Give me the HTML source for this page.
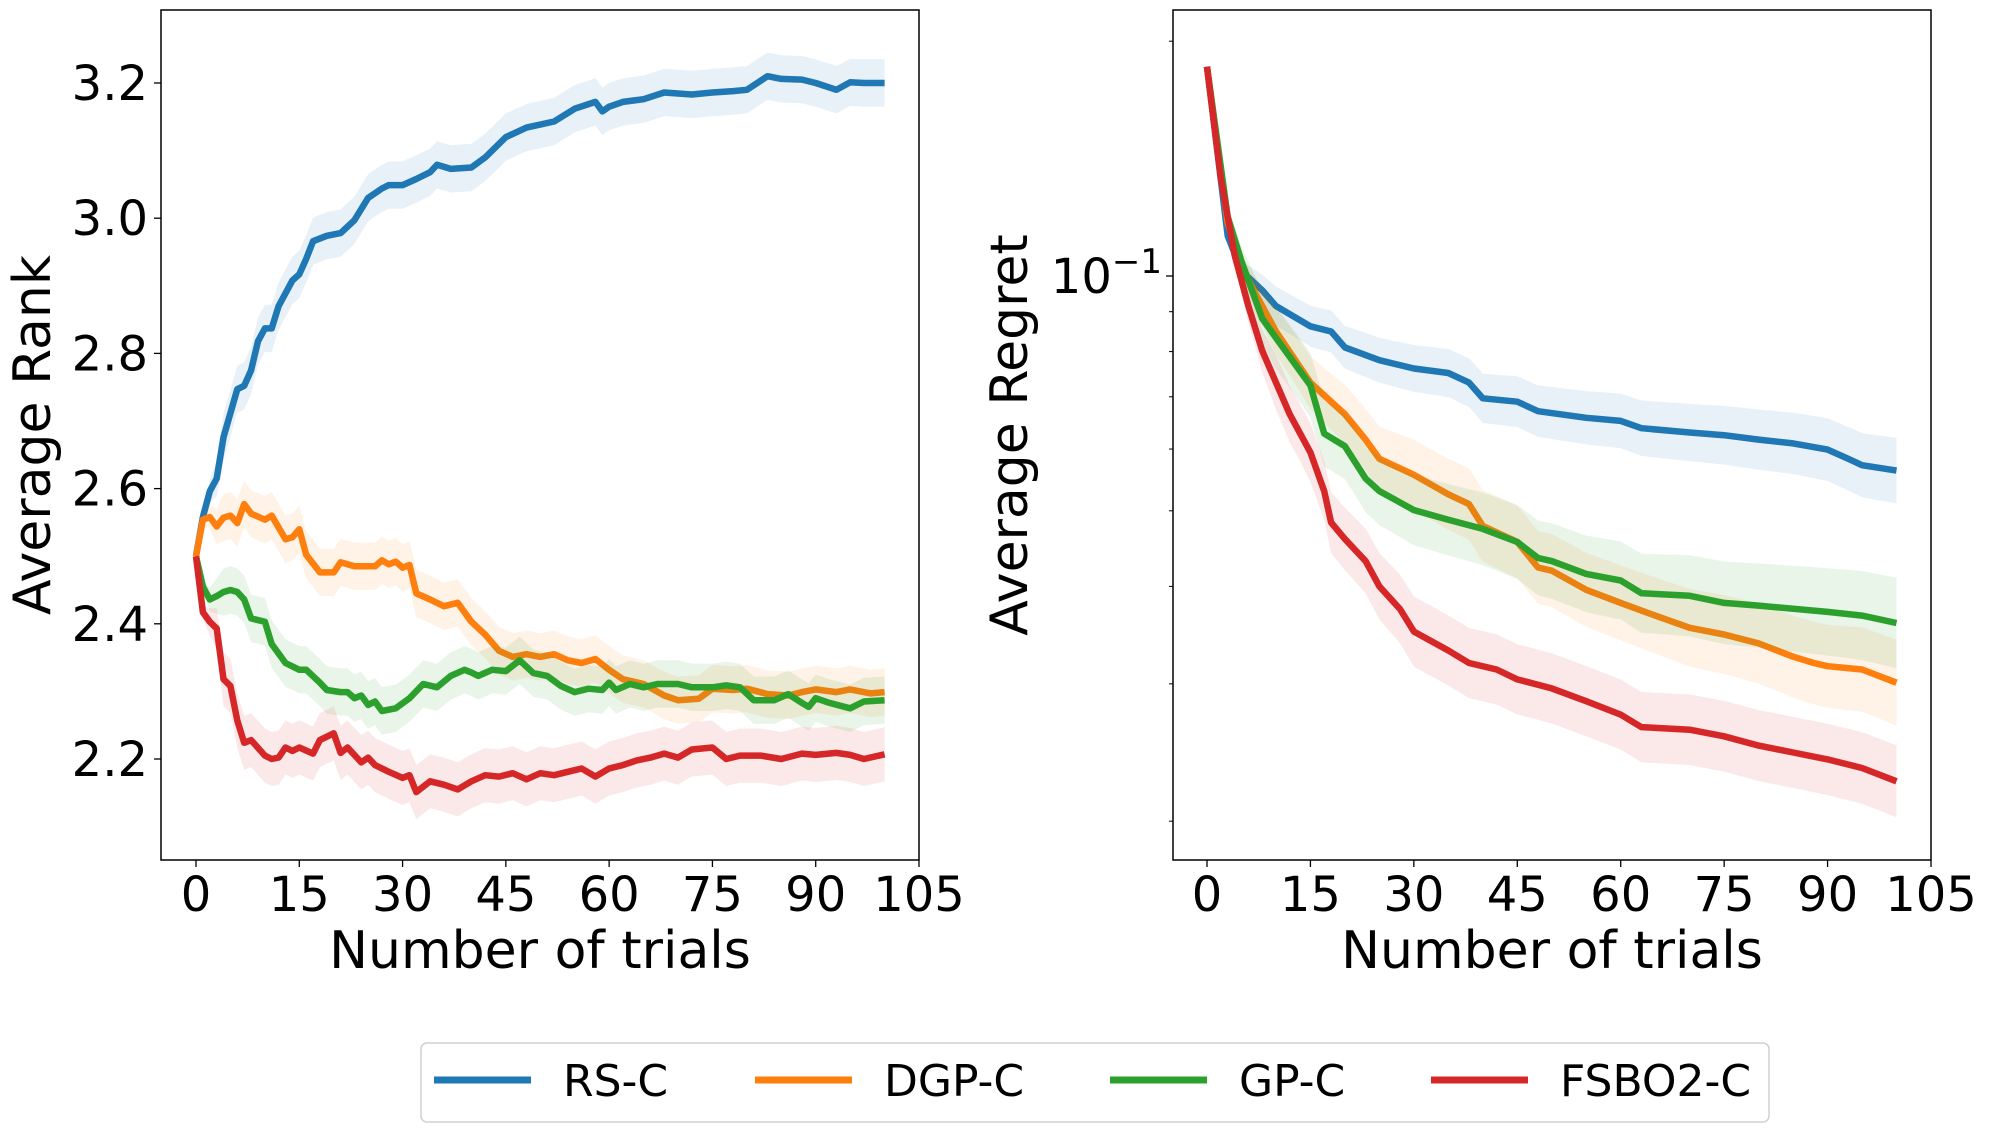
<!DOCTYPE html>
<html><head><meta charset="utf-8"><style>
html,body{margin:0;padding:0;background:#fff;}
svg{display:block;font-family:"DejaVu Sans","Liberation Sans",sans-serif;}
</style></head><body>
<svg id="fig" width="1989" height="1132" viewBox="0 0 1989 1132" xmlns="http://www.w3.org/2000/svg">
<g id="left"></g>
<g id="right"></g>
<g id="legend"></g>
</svg>
<script>
// ---- Left chart data (Average Rank) ----
const rsT=[0,1,2,3,4,6,7,8,9,10,11,12,14,15,16,17,19,21,23,25,27,28,30,32,34,35,37,40,42,45,48,52,55,58,59,60,62,65,68,72,75,78,80,83,85,88,90,93,95,97,100];
const rsRank=[2.5,2.558,2.596,2.615,2.676,2.747,2.752,2.775,2.818,2.837,2.837,2.87,2.908,2.917,2.94,2.966,2.974,2.978,2.997,3.03,3.044,3.049,3.049,3.058,3.068,3.079,3.073,3.075,3.09,3.12,3.134,3.143,3.162,3.172,3.158,3.165,3.172,3.176,3.186,3.183,3.186,3.188,3.19,3.21,3.206,3.205,3.2,3.19,3.201,3.2,3.2];
const dgpT=[0,1,2,3,4,5,6,7,8,10,11,13,14,15,16,18,20,21,23,26,27,28,29,30,31,32,34,36,38,40,42,44,46,48,50,52,54,56,58,60,62,65,68,70,73,75,78,80,83,86,88,90,93,95,98,100];
const dgpRank=[2.5,2.554,2.558,2.544,2.557,2.56,2.549,2.577,2.563,2.554,2.56,2.525,2.528,2.54,2.502,2.476,2.476,2.491,2.485,2.485,2.494,2.488,2.492,2.483,2.487,2.445,2.436,2.426,2.431,2.403,2.384,2.36,2.351,2.355,2.351,2.355,2.346,2.342,2.348,2.332,2.318,2.311,2.294,2.287,2.289,2.304,2.302,2.304,2.296,2.294,2.299,2.303,2.299,2.303,2.297,2.299];
const gpT=[0,1,2,3,4,5,6,7,8,10,11,13,15,16,18,19,21,22,23,24,25,26,27,29,31,33,35,37,39,40,41,43,45,47,49,51,53,55,57,59,60,61,63,65,67,70,72,75,77,79,81,84,86,88,89,90,92,95,97,100];
const gpRank=[2.5,2.455,2.436,2.441,2.447,2.45,2.447,2.436,2.408,2.403,2.37,2.342,2.332,2.332,2.313,2.302,2.299,2.299,2.29,2.294,2.28,2.285,2.271,2.275,2.29,2.311,2.306,2.323,2.332,2.328,2.323,2.332,2.33,2.346,2.327,2.323,2.308,2.299,2.304,2.302,2.313,2.302,2.311,2.306,2.311,2.311,2.306,2.306,2.309,2.306,2.287,2.287,2.296,2.283,2.277,2.29,2.283,2.275,2.285,2.287];
const fsboT=[0,1,2,3,4,5,6,7,8,10,11,12,13,14,15,17,18,20,21,22,24,25,26,28,30,31,32,34,36,38,40,42,44,46,48,50,52,54,56,58,60,62,64,66,68,70,72,75,77,79,82,85,88,90,93,95,97,100];
const fsboRank=[2.5,2.417,2.403,2.393,2.318,2.308,2.257,2.224,2.228,2.205,2.2,2.202,2.217,2.212,2.217,2.208,2.228,2.238,2.209,2.217,2.195,2.202,2.191,2.181,2.172,2.176,2.151,2.167,2.162,2.155,2.167,2.176,2.174,2.179,2.17,2.179,2.176,2.181,2.186,2.174,2.186,2.191,2.198,2.202,2.208,2.202,2.214,2.217,2.2,2.205,2.205,2.2,2.208,2.206,2.209,2.206,2.2,2.207];
const rankBand=[0.035,0.035,0.035,0.04];
const rankTicks=[2.2,2.4,2.6,2.8,3.0,3.2];
const xTicks=[0,15,30,45,60,75,90,105];

// ---- Right chart data (Average Regret, log) ----
const rsRT=[0,3,5,8,10,15,18,20,25,30,35,38,40,45,48,55,60,63,70,75,80,85,90,93,95,100];
const rsRegret=[0.1855,0.1126,0.1015,0.0959,0.0915,0.0862,0.0849,0.081,0.078,0.0761,0.0751,0.073,0.0697,0.069,0.0671,0.0658,0.0652,0.0638,0.063,0.0625,0.0617,0.061,0.0599,0.0583,0.0572,0.0563];
const dgpRT=[0,3,5,8,10,15,18,20,23,25,30,35,38,40,45,48,50,55,60,65,70,75,80,85,88,90,95,100];
const dgpRegret=[0.1855,0.117,0.1025,0.0915,0.0849,0.073,0.069,0.0665,0.0617,0.0583,0.0556,0.0525,0.051,0.0478,0.0456,0.0423,0.0419,0.0396,0.0381,0.0367,0.0354,0.0347,0.0338,0.0325,0.0319,0.0316,0.0313,0.0301];
const gpRT=[0,3,5,8,10,15,17,20,23,25,30,35,40,45,48,50,55,60,63,70,75,80,90,95,100];
const gpRegret=[0.1855,0.1191,0.1044,0.0882,0.0833,0.0724,0.0628,0.0605,0.055,0.053,0.0501,0.0487,0.0474,0.0456,0.0435,0.0431,0.0415,0.0407,0.0392,0.0389,0.0381,0.0378,0.0371,0.0367,0.0359];
const fsboRT=[0,2,4,6,8,10,12,15,17,18,20,23,25,28,30,35,38,42,45,50,55,60,63,70,75,80,85,90,95,100];
const fsboRegret=[0.1855,0.1334,0.1064,0.0915,0.0802,0.073,0.0665,0.0594,0.053,0.0483,0.046,0.0431,0.04,0.0374,0.035,0.0331,0.0319,0.0313,0.0304,0.0296,0.0285,0.0274,0.0264,0.0262,0.0257,0.025,0.0245,0.024,0.0234,0.0225];
const bandT=[0,10,30,60,100];
const rsBand=[0.0,0.025,0.03,0.035,0.042];
const dgpBand=[0.0,0.03,0.045,0.048,0.055];
const gpBand=[0.0,0.04,0.045,0.05,0.058];
const fsboBand=[0.0,0.035,0.045,0.045,0.046];
const regretMinor=[0.02,0.03,0.04,0.05,0.06,0.07,0.08,0.09,0.2];

const colors=["#1f77b4","#ff7f0e","#2ca02c","#d62728"];
const names=["RS-C","DGP-C","GP-C","FSBO2-C"];
const NS="http://www.w3.org/2000/svg";
function mk(tag,attrs,parent){const e=document.createElementNS(NS,tag);for(const k in attrs)e.setAttribute(k,attrs[k]);parent.appendChild(e);return e;}
function interp(T,V,t){if(t<=T[0])return V[0];for(let i=1;i<T.length;i++){if(t<=T[i]){const f=(t-T[i-1])/(T[i]-T[i-1]);return V[i-1]+f*(V[i]-V[i-1]);}}return V[V.length-1];}
function pathFrom(pts){return pts.map((p,i)=>(i?"L":"M")+p[0].toFixed(1)+","+p[1].toFixed(1)).join("");}

// Left axes
const L={x0:161,x1:919,y0:10,y1:860};
const lx=t=>196+t*(919-196)/105;
const ly=v=>759-(v-2.2)*(759-83)/1.0;
// Right axes
const R={x0:1173,x1:1931,y0:10,y1:860};
const rx=t=>1207+t*(1931-1207)/105;
const ry=v=>276-780*Math.log10(v/0.1);

function axesFrame(g,A,xf,name){
  const f=mk("rect",{x:A.x0,y:A.y0,width:A.x1-A.x0,height:A.y1-A.y0,fill:"none",stroke:"#000","stroke-width":1.5},g);
  
  
  xTicks.forEach(t=>{
    const x=xf(t);
    const tk=mk("line",{x1:x,x2:x,y1:A.y1,y2:A.y1+7,stroke:"#000","stroke-width":1.3},g);
    
    
    const tx=mk("text",{x:x,y:911,"font-size":48,"text-anchor":"middle",fill:"#000"},g);
    tx.textContent=t;
    
    
  });
  const xl=mk("text",{x:(A.x0+A.x1)/2,y:968,"font-size":52,"text-anchor":"middle",fill:"#000"},g);
  xl.textContent="Number of trials";
  
  
}
function drawSeries(g,T,V,bandFn,xf,yf,color,idx){
  const grid=[];for(let t=0;t<=100;t+=1)grid.push(t);
  const up=[],dn=[];
  grid.forEach(t=>{const v=interp(T,V,t);const b=bandFn(t,v);up.push([xf(t),yf(b[1])]);dn.push([xf(t),yf(b[0])]);});
  const band=mk("path",{d:pathFrom(up.concat(dn.reverse()))+"Z",fill:color,"fill-opacity":0.1,stroke:"none"},g);
  
  
  const pts=T.map((t,i)=>[xf(t),yf(V[i])]);
  const line=mk("path",{d:pathFrom(pts),fill:"none",stroke:color,"stroke-width":6.5,"stroke-linejoin":"round"},g);
  
  
}

// Left chart
const gl=document.getElementById("left");
const lT=[rsT,dgpT,gpT,fsboT], lV=[rsRank,dgpRank,gpRank,fsboRank];
lT.forEach((T,i)=>drawSeries(gl,T,lV[i],(t,v)=>{const w=rankBand[i]*Math.min(1,t/4);return [v-w,v+w];},lx,ly,colors[i],i));
axesFrame(gl,L,lx,"rank");
rankTicks.forEach(v=>{
  const y=ly(v);
  const tk=mk("line",{x1:L.x0-7,x2:L.x0,y1:y,y2:y,stroke:"#000","stroke-width":1.3},gl);
  
  
  const tx=mk("text",{x:148,y:y+17,"font-size":48,"text-anchor":"end",fill:"#000"},gl);
  tx.textContent=v.toFixed(1);
  
  
});
const yl=mk("text",{x:0,y:0,"font-size":52,"text-anchor":"middle",fill:"#000",transform:"translate(50,435) rotate(-90)"},gl);
yl.textContent="Average Rank";



// Right chart
const gr=document.getElementById("right");
const rT=[rsRT,dgpRT,gpRT,fsboRT], rV=[rsRegret,dgpRegret,gpRegret,fsboRegret], rB=[rsBand,dgpBand,gpBand,fsboBand];
rT.forEach((T,i)=>drawSeries(gr,T,rV[i],(t,v)=>{const w=interp(bandT,rB[i],t);return [v*Math.pow(10,-w),v*Math.pow(10,w)];},rx,ry,colors[i],i));
axesFrame(gr,R,rx,"regret");
regretMinor.forEach(v=>{
  const y=ry(v);
  const tk=mk("line",{x1:R.x0-4,x2:R.x0,y1:y,y2:y,stroke:"#000","stroke-width":1},gr);
  
  
});
const ym=ry(0.1);
const mt=mk("line",{x1:R.x0-7,x2:R.x0,y1:ym,y2:ym,stroke:"#000","stroke-width":1.3},gr);


const yt=mk("text",{x:1162,y:ym+17,"font-size":48,"text-anchor":"end",fill:"#000"},gr);
yt.innerHTML='10<tspan dy="-20" font-size="34">−1</tspan>';


const yr=mk("text",{x:0,y:0,"font-size":52,"text-anchor":"middle",fill:"#000",transform:"translate(1027,435) rotate(-90)"},gr);
yr.textContent="Average Regret";



// Legend
const lg=document.getElementById("legend");
const box=mk("rect",{x:421,y:1043,width:1348,height:79,rx:6,fill:"#fff",stroke:"#d0d0d0","stroke-width":1.5},lg);


const lx0=[434,755,1110,1431];
names.forEach((n,i)=>{
  const ln=mk("line",{x1:lx0[i],x2:lx0[i]+97,y1:1080,y2:1080,stroke:colors[i],"stroke-width":7},lg);
  
  
  const tx=mk("text",{x:lx0[i]+129,y:1096,"font-size":44,fill:"#000"},lg);
  tx.textContent=n;
  
  
});
</script>
</body></html>
